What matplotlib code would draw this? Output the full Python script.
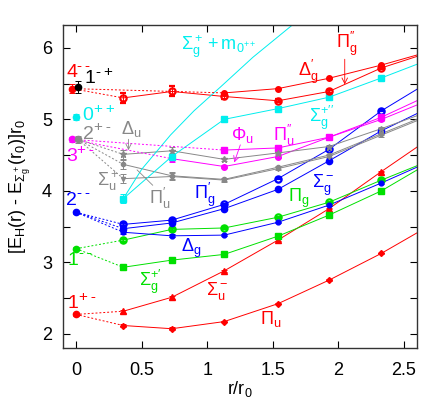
import matplotlib
matplotlib.use('Agg')
import matplotlib.pyplot as plt
import numpy as np

plt.rcParams['font.family'] = ['Liberation Sans', 'DejaVu Sans']
plt.rcParams['mathtext.fontset'] = 'custom'
plt.rcParams['mathtext.rm'] = 'Liberation Sans'
plt.rcParams['mathtext.it'] = 'Liberation Sans'
plt.rcParams['mathtext.default'] = 'regular'

nan = np.nan
# lattice separations r/r0
r = [0.36, 0.73, 1.13, 1.54, 1.93, 2.33]
r_end = 2.6

# energies at r, last value = where the curve leaves the frame at r_end
pi_u = [2.115, 2.07, 2.17, 2.42, 2.75, 3.125, 3.41]
sigma_u_m = [2.315, 2.51, 2.88, 3.31, 3.75, 4.27, 4.61]
sigma_g_p1 = [2.93, 3.03, 3.11, 3.365, 3.66, 4.00, 4.29]
pi_g = [3.31, 3.46, 3.48, 3.63, 3.84, 4.15, 4.35]
delta_g = [3.42, 3.37, 3.38, 3.56, 3.80, 4.11, 4.33]
sigma_g_m = [3.47, 3.55, 3.75, 4.02, 4.42, 4.84, 5.08]
pi_g_p1 = [3.53, 3.59, 3.81, 4.17, 4.58, 5.12, 5.42]
phi_u = [nan, 4.45, 4.34, 4.48, 4.75, 5.00, 5.20]
pi_u_p2 = [nan, nan, 4.57, 4.60, 4.75, 5.03, 5.26]
delta_u = [4.51, 4.56, 4.44, 4.53, 4.62, 4.87, 5.05]
pi_u_p1 = [4.37, 4.21, 4.16, 4.33, 4.50, 4.80, 5.00]
sigma_u_p = [4.17, 4.20, 4.15, 4.31, 4.48, 4.78, 4.98]
sigma_g_p2 = [3.89, 4.48, 5.00, 5.15, 5.31, 5.58, 5.77]
delta_g_p1 = [nan, nan, 5.37, 5.43, 5.575, 5.76, 5.90]
pi_g_p2 = [5.30, 5.39, 5.32, 5.26, 5.39, 5.72, 5.88]

# error bars (only visible at small r)
err_small = [0.02, 0.02, 0.01, 0.01, 0.01, 0.01]
err_gray = [0.06, 0.05, 0.02, 0.02, 0.02, 0.02]
err_red_hi = [0.07, 0.07, 0.03, 0.02, 0.02, 0.02]
err_cyan = [0.06, 0.05, 0.02, 0.02, 0.02, 0.02]
err_mag = [0, 0.05, 0.02, 0.02, 0.02, 0.02]

# Sigma_g^+ + m_0++ curve
glue_r = [0.36, 0.50, 0.72, 0.90, 1.10, 1.35, 1.65]
glue_e = [3.89, 4.30, 4.78, 5.12, 5.45, 5.87, 6.32]

# r = 0 gluelump levels: (x, E, err)
gl_4mm = (-0.03, 5.43, 0.06)
gl_1mp = (0.015, 5.45, 0.08)
gl_0pp = (0.0, 5.03, 0.04)
gl_3pm = (-0.03, 4.72, 0.04)
gl_2pm = (0.015, 4.72, 0.05)
gl_2mm = (0.0, 3.70, 0.02)
gl_1mm = (0.0, 3.19, 0.02)
gl_1pm = (0.0, 2.27, 0.02)

RED = '#ff0000'
GRN = '#00e000'
BLU = '#0000ff'
MAG = '#ff00ff'
CYA = '#00eeee'
GRY = '#888888'

fig = plt.figure(figsize=(4.36, 4.05), dpi=100)
ax = fig.add_axes([0.1445, 0.1407, 0.8115, 0.7975])

def curve(y, c, marker, err=err_small, ms=4, open_=False):
    ax.plot(r + [r_end], y, color=c, lw=0.7)
    kw = dict(mfc='none', mew=1.6) if open_ else {}
    ax.errorbar(r, y[:6], yerr=err, fmt=marker, color=c, ms=ms,
                elinewidth=0.7, capsize=2.5, capthick=0.7, **kw)

def link(g, y, idx, c, ls=(0, (2, 2))):
    for i in idx:
        ax.plot([g[0], r[i]], [g[1], y[i]], color=c, lw=0.7, ls=ls)

def state(x, y, base, sup, c):
    t = ax.text(x, y, base, color=c, fontsize=14, va='center')
    ax.annotate(sup[0] + '\u2009' + sup[1], xy=(1.02, 0.5), xycoords=t,
                color=c, fontsize=11, va='bottom', ha='left')

curve(pi_u, RED, 'D', ms=3)
curve(sigma_u_m, RED, '^', ms=4)
curve(sigma_g_p1, GRN, 's', ms=4.5)
curve(pi_g, GRN, 'o', ms=4.5, open_=True)
curve(delta_g, BLU, 'o', ms=3.5)
curve(sigma_g_m, BLU, 'o', ms=4.5)
curve(pi_g_p1, BLU, 'o', ms=4.5, open_=True)
curve(phi_u, MAG, 'o', err=err_mag, ms=4)
curve(pi_u_p2, MAG, 's', ms=4)
curve(delta_u, GRY, '*', err=err_gray, ms=5)
curve(pi_u_p1, GRY, 'o', err=err_gray, ms=3)
curve(sigma_u_p, GRY, 'v', err=err_gray, ms=3)
curve(sigma_g_p2, CYA, 's', err=err_cyan, ms=4.5)
curve(delta_g_p1, RED, 'o', ms=4)
curve(pi_g_p2, RED, 'o', err=err_red_hi, ms=4.5, open_=True)
ax.plot(glue_r, glue_e, color=CYA, lw=0.7)

# dotted links to r = 0 levels
link(gl_4mm, pi_g_p2, [0], RED)
link(gl_4mm, delta_g_p1, [2], RED)
link(gl_3pm, phi_u, [1], MAG)
link(gl_3pm, pi_u_p2, [2], MAG)
for s in (delta_u, pi_u_p1, sigma_u_p):
    link(gl_2pm, s, [0], GRY)
for s in (delta_g, sigma_g_m, pi_g_p1):
    link(gl_2mm, s, [0], BLU)
for s in (sigma_g_p1, pi_g):
    link(gl_1mm, s, [0], GRN)
for s in (pi_u, sigma_u_m):
    link(gl_1pm, s, [0], RED)

for g, c in [(gl_4mm, RED), (gl_1mp, 'black'), (gl_0pp, CYA), (gl_3pm, MAG),
             (gl_2pm, GRY), (gl_2mm, BLU), (gl_1mm, GRN), (gl_1pm, RED)]:
    ax.errorbar([g[0]], [g[1]], yerr=[g[2]], fmt='o', color=c, ms=4.5,
                elinewidth=0.7, capsize=2.5, capthick=0.7)

state(-0.075, 5.65, '4', '--', RED)
state(0.065, 5.57, '1', '-+', 'black')
state(0.05, 5.05, '0', '++', CYA)
state(0.05, 4.79, '2', '+-', GRY)
state(-0.075, 4.48, '3', '+-', MAG)
state(-0.075, 3.87, '2', '--', BLU)
state(-0.065, 3.03, '1', '--', GRN)
state(-0.065, 2.42, '1', '+-', RED)

fs = 13
ax.text(0.34, 4.86, r'$\Delta_u$', color=GRY, fontsize=fs, va='center')
ax.annotate('', xy=(0.40, 4.53), xytext=(0.40, 4.76),
            arrowprops=dict(arrowstyle='->', color=GRY, lw=0.6))
ax.text(0.16, 4.13, r'$\Sigma_u^+$', color=GRY, fontsize=fs, va='center')
ax.text(0.56, 3.90, r"$\Pi_u'$", color=GRY, fontsize=fs, va='center')
ax.annotate('', xy=(0.45, 4.32), xytext=(0.6, 4.05),
            arrowprops=dict(arrowstyle='-', color=GRY, lw=0.6))
ax.text(0.90, 3.95, r"$\Pi_g'$", color=BLU, fontsize=fs, va='center')
ax.text(0.80, 3.2, r'$\Delta_g$', color=BLU, fontsize=fs, va='center')
ax.text(0.48, 2.72, r"$\Sigma_g^{+\prime}$", color=GRN, fontsize=fs, va='center')
ax.text(0.99, 2.6, r'$\Sigma_u^-$', color=RED, fontsize=fs, va='center')
ax.text(1.40, 2.2, r'$\Pi_u$', color=RED, fontsize=fs, va='center')
ax.text(1.62, 3.9, r'$\Pi_g$', color=GRN, fontsize=fs, va='center')
ax.text(1.80, 4.08, r'$\Sigma_g^-$', color=BLU, fontsize=fs, va='center')
ax.text(1.18, 4.78, r'$\Phi_u$', color=MAG, fontsize=fs, va='center')
ax.annotate('', xy=(1.2, 4.36), xytext=(1.26, 4.68),
            arrowprops=dict(arrowstyle='->', color=MAG, lw=0.6))
ax.text(1.50, 4.78, r"$\Pi_u''$", color=MAG, fontsize=fs, va='center')
ax.text(1.78, 5.02, r"$\Sigma_g^{+\prime\prime}$", color=CYA, fontsize=fs, va='center')
ax.text(1.69, 5.66, r"$\Delta_g'$", color=RED, fontsize=fs, va='center')
ax.text(1.98, 6.05, r"$\Pi_g''$", color=RED, fontsize=fs, va='center')
ax.annotate('', xy=(2.05, 5.45), xytext=(2.05, 5.88),
            arrowprops=dict(arrowstyle='->', color=RED, lw=0.6))
ax.text(0.80, 6.02, r'$\Sigma_g^+ + m_{0^{++}}$', color=CYA, fontsize=fs, va='center')

ax.set_xlim(-0.1, r_end)
ax.set_ylim(1.8, 6.32)
ax.set_xticks([0, 0.5, 1, 1.5, 2, 2.5])
ax.set_xticklabels(['0', '0.5', '1', '1.5', '2', '2.5'])
ax.set_yticks([2, 3, 4, 5, 6])
ax.set_yticks(np.arange(2.5, 6.1, 1.0), minor=True)
ax.tick_params(which='both', direction='in', top=True, right=True,
               length=5, width=0.8, labelsize=13)
ax.tick_params(axis='x', pad=10)
ax.tick_params(axis='y', pad=8)
for s in ax.spines.values():
    s.set_linewidth(1.0)
    s.set_color('#333333')
ax.set_xlabel(r'r/r$_0$', fontsize=13, labelpad=0)
ax.set_ylabel(r'[E$_H$(r) - E$_{\Sigma_g^+}$(r$_0$)]r$_0$', fontsize=13, labelpad=6)

plt.savefig('out.png', dpi=100)
plt.close()
